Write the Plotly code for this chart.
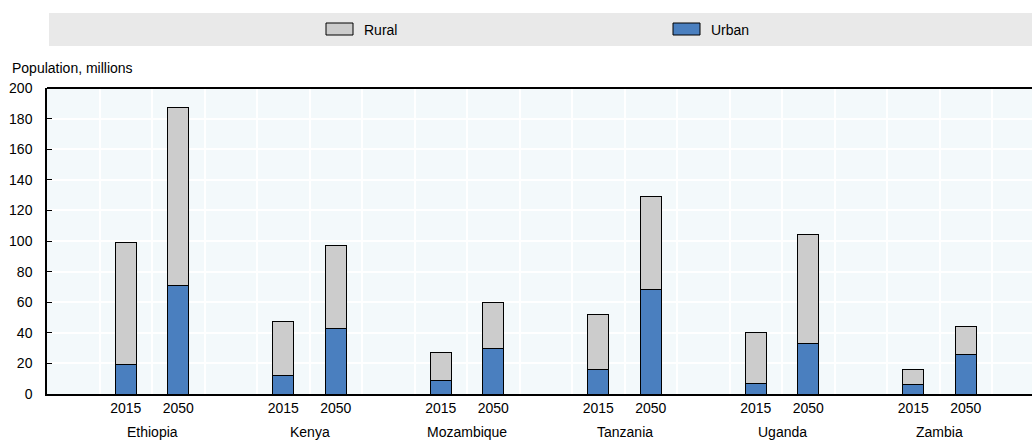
import plotly.graph_objects as go

countries = ["Ethiopia", "Kenya", "Mozambique", "Tanzania", "Uganda", "Zambia"]
years = ["2015", "2050"]
urban_2015 = [19.5, 12.2, 8.7, 16.3, 6.7, 6.5]
urban_2050 = [70.6, 42.7, 29.6, 68.6, 33.3, 26.1]
total_2015 = [99.0, 47.1, 27.0, 52.1, 40.1, 15.7]
total_2050 = [187.4, 97.2, 60.1, 129.4, 104.1, 44.4]
y_ticks = [0, 20, 40, 60, 80, 100, 120, 140, 160, 180, 200]

W, H = 1032, 440
ML, MR, MT, MB = 47, 0, 88, 46
PW, PH = W - ML - MR, H - MT - MB

def px_x(p):
    return (p - ML) / PW

def px_y(p):
    return (H - MB - p) / PH

xs, urban, rural, labels = [], [], [], []
for g, c in enumerate(countries):
    for j, (u, t) in enumerate([(urban_2015[g], total_2015[g]), (urban_2050[g], total_2050[g])]):
        xs.append(3 * g + 1 + j)
        urban.append(u)
        rural.append(round(t - u, 1))
        labels.append(years[j])

FONT = "Liberation Sans, Arial, sans-serif"
fig = go.Figure()
fig.add_trace(go.Bar(x=xs, y=urban, name="Urban", width=0.4,
                     marker=dict(color="#4a7fbf", line=dict(color="#000000", width=1))))
fig.add_trace(go.Bar(x=xs, y=rural, name="Rural", width=0.4,
                     marker=dict(color="#cccccc", line=dict(color="#000000", width=1))))

xmax = -0.5 + PW / 52.5
fig.update_layout(
    barmode="stack", width=W, height=H, showlegend=False,
    margin=dict(l=ML, r=MR, t=MT, b=MB, pad=0),
    paper_bgcolor="white", plot_bgcolor="#f3f9fb",
    font=dict(family=FONT, size=14, color="#000000"),
    xaxis=dict(range=[-0.5, xmax], tickvals=xs, ticktext=labels, showgrid=False,
               ticks="", tickfont=dict(size=14), zeroline=False,
               showline=True, linecolor="#000000", linewidth=1.5,
               minor=dict(tick0=0.5, dtick=1, showgrid=True, gridcolor="white", gridwidth=1.5, ticks="")),
    yaxis=dict(range=[0, 200], tickvals=y_ticks, showgrid=True, gridcolor="white", gridwidth=1.5,
               ticks="inside", ticklen=5, tickcolor="#000000", zeroline=False, ticklabelstandoff=10,
               showline=True, linecolor="#000000", linewidth=1.5, tickfont=dict(size=14)),
)

# top frame line
fig.add_shape(type="line", xref="paper", yref="paper", x0=0, x1=1, y0=1, y1=1,
              line=dict(color="#000000", width=2))

# country labels
for g, c in enumerate(countries):
    fig.add_annotation(x=3 * g + 1.5, xref="x", y=px_y(432), yref="paper", text=c,
                       showarrow=False, font=dict(size=14), xanchor="center", yanchor="middle")

# axis title
fig.add_annotation(x=px_x(10), xref="paper", y=px_y(68), yref="paper", text="Population, millions",
                   showarrow=False, font=dict(size=14), xanchor="left", yanchor="middle")

# legend band
fig.add_shape(type="rect", xref="paper", yref="paper", x0=px_x(49), x1=px_x(1032),
              y0=px_y(46), y1=px_y(13), line=dict(width=0), fillcolor="#e9e9e9", layer="below")
for name, color, bx in [("Rural", "#cccccc", 326), ("Urban", "#4a7fbf", 673)]:
    fig.add_shape(type="rect", xref="paper", yref="paper", x0=px_x(bx), x1=px_x(bx + 27),
                  y0=px_y(35), y1=px_y(23), line=dict(color="#000000", width=1), fillcolor=color)
    fig.add_annotation(x=px_x(bx + 36), xref="paper", y=px_y(29.5), yref="paper", text=name,
                       showarrow=False, font=dict(size=14), xanchor="left", yanchor="middle")

fig.write_html("out.html", config={"displayModeBar": False},
               post_script="document.body.style.margin='0';document.body.style.overflow='hidden';")
